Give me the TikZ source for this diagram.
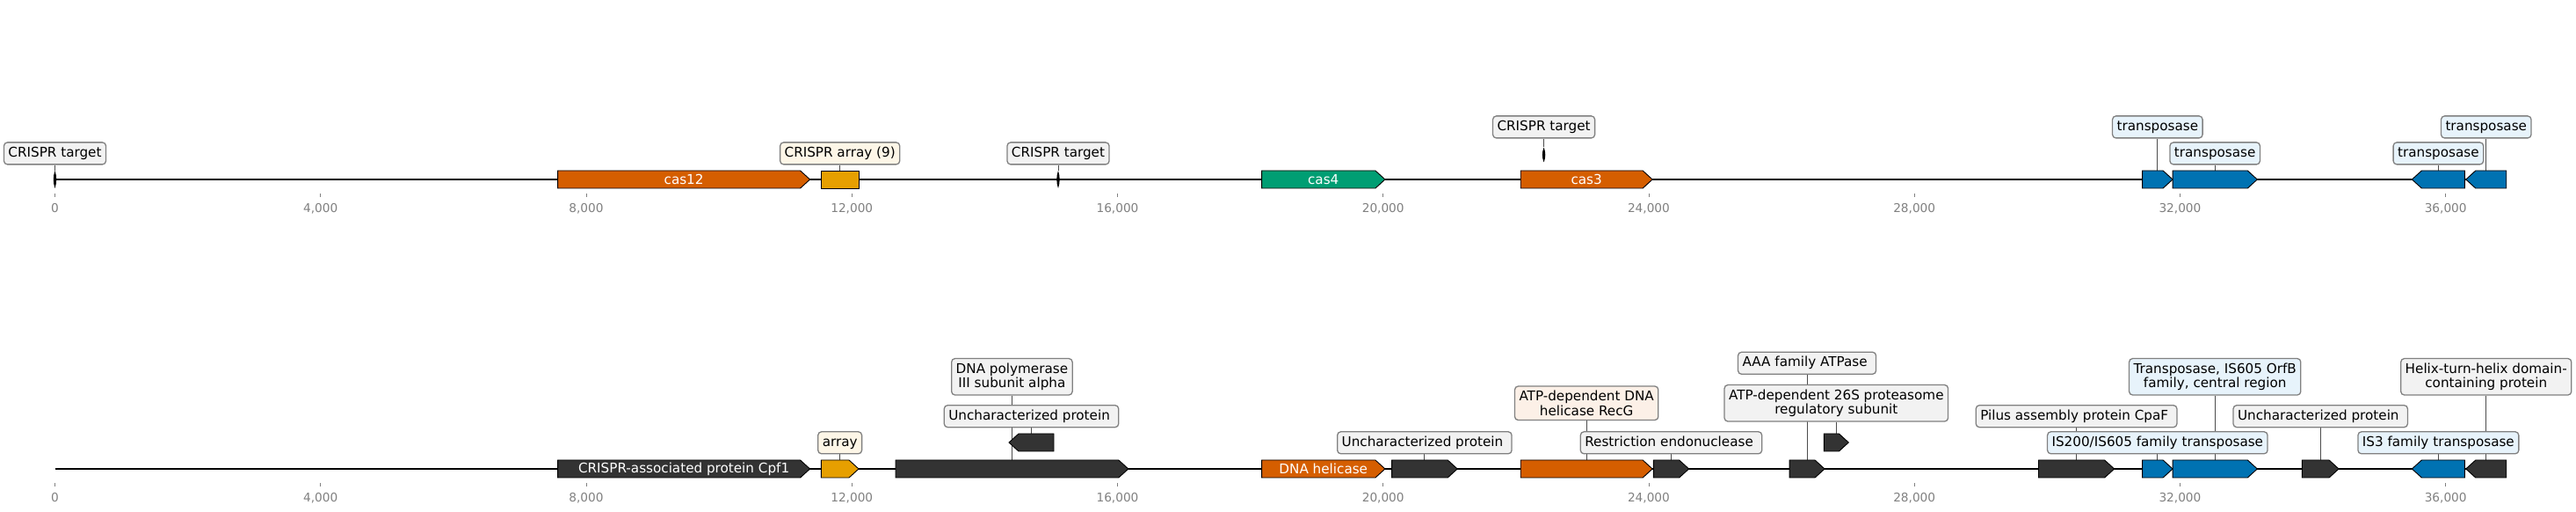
\documentclass[tikz,border=0pt]{standalone}
\usepackage{fontspec}
\setmainfont{DejaVu Sans}
\usepackage{tikz}
\definecolor{genedark}{HTML}{333333}
\definecolor{geneorange}{HTML}{D55E00}
\definecolor{geneyellow}{HTML}{E69F00}
\definecolor{genegreen}{HTML}{009E73}
\definecolor{geneblue}{HTML}{0072B2}
\definecolor{boxgray}{HTML}{F2F2F2}
\definecolor{boxcream}{HTML}{FDF6E7}
\definecolor{boxblue}{HTML}{E7F3FB}
\definecolor{boxpeach}{HTML}{FCF0E7}
\pgfdeclarelayer{bg}
\pgfsetlayers{bg,main}
\tikzset{
  track/.style={line width=1.65pt,draw=black},
  gene/.style={draw=black,line width=0.6pt},
  conn/.style={draw=black!70,line width=0.6pt},
  tickmark/.style={draw=gray,line width=0.6pt},
  ticklabel/.style={text=gray,font=\fontsize{9}{10}\selectfont,anchor=base},
  genelabel/.style={text=white,font=\fontsize{10}{11}\selectfont},
  lblbase/.style={draw=gray,line width=0.85pt,rounded corners=2.6pt,fill=boxgray,
    font=\fontsize{10}{11}\selectfont,inner xsep=3.3pt},
  lbl/.style={lblbase,inner ysep=0pt,text height=7.6pt,text depth=2.4pt,minimum height=16.45pt},
  lbltwo/.style={lblbase,inner ysep=3.3pt,align=center}
}
\newcommand{\tipkb}{0.1456}
\newcommand{\tsp}{\kern0.318em}
% #1 name, #2 start, #3 end (kb), #4 level, #5 colour
\newcommand{\fwdgene}[5]{%
  \draw[gene,fill=#5] (#2,#4-10) -- ({max(#2,#3-\tipkb)},#4-10) -- (#3,#4)
    -- ({max(#2,#3-\tipkb)},#4+10) -- (#2,#4+10) -- cycle;
  \coordinate (#1) at ({(#2+#3)/2},#4+10);
  \coordinate (#1c) at ({(#2+#3)/2},#4);}
\newcommand{\revgene}[5]{%
  \draw[gene,fill=#5] (#2,#4) -- ({min(#3,#2+\tipkb)},#4-10) -- (#3,#4-10)
    -- (#3,#4+10) -- ({min(#3,#2+\tipkb)},#4+10) -- cycle;
  \coordinate (#1) at ({(#2+#3)/2},#4+10);
  \coordinate (#1c) at ({(#2+#3)/2},#4);}
\newcommand{\blockgene}[5]{%
  \draw[gene,fill=#5] (#2,#4-10) rectangle (#3,#4+10);
  \coordinate (#1) at ({(#2+#3)/2},#4+10);}
% #1 name, #2 position, #3 level, #4 half height
\newcommand{\crtarget}[4]{%
  \fill[black] (#2,#3-#4) .. controls (#2-0.03,#3-#4/3) and (#2-0.03,#3+#4/3) .. (#2,#3+#4)
    .. controls (#2+0.03,#3+#4/3) and (#2+0.03,#3-#4/3) .. cycle;
  \coordinate (#1) at (#2,#3+#4);}
\begin{document}
\begin{tikzpicture}[x=49.72pt,y=0.658pt]
  \useasboundingbox (-0.8272,0) rectangle (37.963,582);
  % label rows
  \coordinate (tA) at (0,407.6);
  \coordinate (tB) at (0,437.6);
  \coordinate (bA) at (0,78.7);
  \coordinate (bB) at (0,108.8);
  \coordinate (bC) at (0,123.7);
  \coordinate (bD) at (0,153.7);
  \coordinate (bE) at (0,169.2);
  % axes
  \coordinate (top0) at (0,378);
  \coordinate (top1) at (36.914,378);
  \coordinate (bot0) at (0,49);
  \coordinate (bot1) at (36.914,49);
  \foreach \k/\t in {0/0,4/{4,000},8/{8,000},12/{12,000},16/{16,000},
                     20/{20,000},24/{24,000},28/{28,000},32/{32,000},36/{36,000}}{
    \draw[tickmark] (\k,362) -- (\k,358);
    \node[ticklabel] (tt\k) at (\k,340.3) {\t};
    \draw[tickmark] (\k,33) -- (\k,29);
    \node[ticklabel] (bt\k) at (\k,11.3) {\t};
  }
  % top track
  \crtarget{tga}{0}{378}{10}
  \fwdgene{cas12}{7.572}{11.369}{378}{geneorange}
  \blockgene{arr9}{11.538}{12.103}{378}{geneyellow}
  \crtarget{tgb}{15.107}{378}{10}
  \fwdgene{cas4}{18.172}{20.029}{378}{genegreen}
  \crtarget{tgc}{22.42}{406}{8.5}
  \fwdgene{cas3}{22.071}{24.055}{378}{geneorange}
  \fwdgene{tpa}{31.433}{31.889}{378}{geneblue}
  \fwdgene{tpb}{31.889}{33.163}{378}{geneblue}
  \revgene{tpc}{35.493}{36.287}{378}{geneblue}
  \revgene{tpd}{36.305}{36.914}{378}{geneblue}
  \node[genelabel] (cas12t) at (cas12c) {cas12};
  \node[genelabel] (cas4t) at (cas4c) {cas4};
  \node[genelabel] (cas3t) at (cas3c) {cas3};
  \node[lbl] (ltga) at (tga |- tA) {CRISPR target};
  \node[lbl,fill=boxcream] (larr9) at (arr9 |- tA) {CRISPR array (9)};
  \node[lbl] (ltgb) at (tgb |- tA) {CRISPR target};
  \node[lbl] (ltgc) at (tgc |- tB) {CRISPR target};
  \node[lbl,fill=boxblue] (ltpa) at (tpa |- tB) {transposase};
  \node[lbl,fill=boxblue] (ltpb) at (tpb |- tA) {transposase};
  \node[lbl,fill=boxblue] (ltpc) at (tpc |- tA) {transposase};
  \node[lbl,fill=boxblue] (ltpd) at (tpd |- tB) {transposase};
  % bottom track
  \fwdgene{cpf}{7.572}{11.369}{49}{genedark}
  \fwdgene{arr}{11.538}{12.103}{49}{geneyellow}
  \fwdgene{pol}{12.659}{16.163}{49}{genedark}
  \revgene{unka}{14.366}{15.041}{79}{genedark}
  \fwdgene{hel}{18.172}{20.029}{49}{geneorange}
  \fwdgene{unkb}{20.130}{21.118}{49}{genedark}
  \fwdgene{recg}{22.071}{24.055}{49}{geneorange}
  \fwdgene{res}{24.072}{24.604}{49}{genedark}
  \fwdgene{aaa}{26.119}{26.648}{49}{genedark}
  \fwdgene{psm}{26.638}{27.009}{79}{genedark}
  \fwdgene{cpaf}{29.870}{31.010}{49}{genedark}
  \fwdgene{isa}{31.433}{31.889}{49}{geneblue}
  \fwdgene{orfb}{31.889}{33.163}{49}{geneblue}
  \fwdgene{unkc}{33.839}{34.390}{49}{genedark}
  \revgene{isc}{35.493}{36.287}{49}{geneblue}
  \revgene{hth}{36.305}{36.914}{49}{genedark}
  \node[genelabel] (cpft) at (cpfc) {CRISPR-associated protein Cpf1};
  \node[genelabel] (helt) at (helc) {DNA helicase};
  \node[lbl,fill=boxcream] (larr) at (arr |- bA) {array};
  \node[lbltwo] (lpol) at (pol |- bD) {DNA polymerase\\III subunit alpha};
  \node[lbl] (lunka) at (unka |- bB) {Uncharacterized protein\tsp};
  \node[lbl] (lunkb) at (unkb |- bA) {Uncharacterized protein\tsp};
  \node[lbltwo,fill=boxpeach] (lrecg) at (recg |- bC) {ATP-dependent DNA\\helicase RecG};
  \node[lbl] (lres) at (res |- bA) {Restriction endonuclease\tsp};
  \node[lbl] (laaa) at (aaa |- bE) {AAA family ATPase\tsp};
  \node[lbltwo] (lpsm) at (psm |- bC) {ATP-dependent 26S proteasome\\regulatory subunit};
  \node[lbl] (lcpaf) at (cpaf |- bB) {Pilus assembly protein CpaF\tsp};
  \node[lbl,fill=boxblue] (lisa) at (isa |- bA) {IS200/IS605 family transposase};
  \node[lbltwo,fill=boxblue] (lorfb) at (orfb |- bD) {Transposase, IS605 OrfB\\family, central region};
  \node[lbl] (lunkc) at (unkc |- bB) {Uncharacterized protein\tsp};
  \node[lbl,fill=boxblue] (lisc) at (isc |- bA) {IS3 family transposase};
  \node[lbltwo] (lhth) at (hth |- bD) {Helix-turn-helix domain-\\containing protein};
  % lines behind
  \begin{pgfonlayer}{bg}
    \draw[track] (top0) -- (top1);
    \draw[track] (bot0) -- (bot1);
    \draw[conn] (ltga) -- (tga);
    \draw[conn] (larr9) -- (arr9);
    \draw[conn] (ltgb) -- (tgb);
    \draw[conn] (ltgc) -- (tgc);
    \draw[conn] (ltpa) -- (tpa);
    \draw[conn] (ltpb) -- (tpb);
    \draw[conn] (ltpc) -- (tpc);
    \draw[conn] (ltpd) -- (tpd);
    \draw[conn] (larr) -- (arr);
    \draw[conn] (lpol) -- (pol);
    \draw[conn] (lunka) -- (unka);
    \draw[conn] (lunkb) -- (unkb);
    \draw[conn] (lrecg) -- (recg);
    \draw[conn] (lres) -- (res);
    \draw[conn] (laaa) -- (aaa);
    \draw[conn] (lpsm) -- (psm);
    \draw[conn] (lcpaf) -- (cpaf);
    \draw[conn] (lisa) -- (isa);
    \draw[conn] (lorfb) -- (orfb);
    \draw[conn] (lunkc) -- (unkc);
    \draw[conn] (lisc) -- (isc);
    \draw[conn] (lhth) -- (hth);
  \end{pgfonlayer}
\end{tikzpicture}
\end{document}
